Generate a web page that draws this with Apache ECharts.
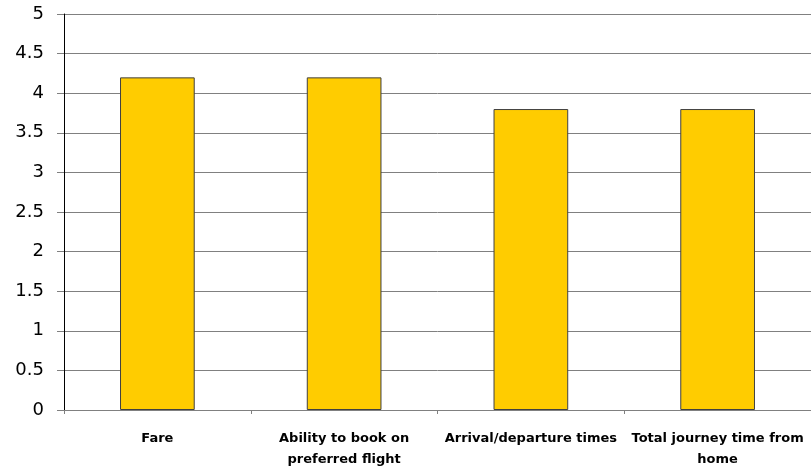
<!DOCTYPE html>
<html><head><meta charset="utf-8">
<script src="https://cdn.jsdelivr.net/npm/echarts@6/dist/echarts.min.js"></script>
<style>html,body{margin:0;padding:0;background:#fff}#c{width:811px;height:470px}</style>
</head><body><div id="c"></div>
<script>
const categories = ["Fare", "Ability to book on\npreferred flight", "Arrival/departure times", "Total journey time from\nhome"];
const values = [4.2, 4.2, 3.8, 3.8];
const yTicks = {min: 0, max: 5, interval: 0.5};

const chart = echarts.init(document.getElementById('c'), null, {renderer: 'canvas'});
chart.setOption({
  animation: false,
  grid: {left: 64, top: 14, width: 750, height: 401, containLabel: false},
  xAxis: {
    type: 'category', data: categories,
    axisLine: {lineStyle: {color: '#808080', width: 1}},
    axisTick: {show: true, length: 4, lineStyle: {color: '#808080'}},
    axisLabel: {margin: 18, fontFamily: 'DejaVu Sans', fontWeight: 'bold', fontSize: 13, color: '#000', lineHeight: 21, interval: 0}
  },
  yAxis: {
    type: 'value', min: yTicks.min, max: yTicks.max, interval: yTicks.interval,
    axisLine: {show: true, lineStyle: {color: '#000', width: 1}},
    axisTick: {show: true, length: 7, lineStyle: {color: '#808080'}},
    splitLine: {lineStyle: {color: '#808080', width: 1}},
    axisLabel: {margin: 20, fontFamily: 'DejaVu Sans', fontSize: 18, color: '#000', formatter: v => String(v)}
  },
  series: [{
    type: 'bar', data: values, barWidth: '40%',
    itemStyle: {color: '#FFCC00', borderColor: '#404040', borderWidth: 1}
  }]
});
</script></body></html>
